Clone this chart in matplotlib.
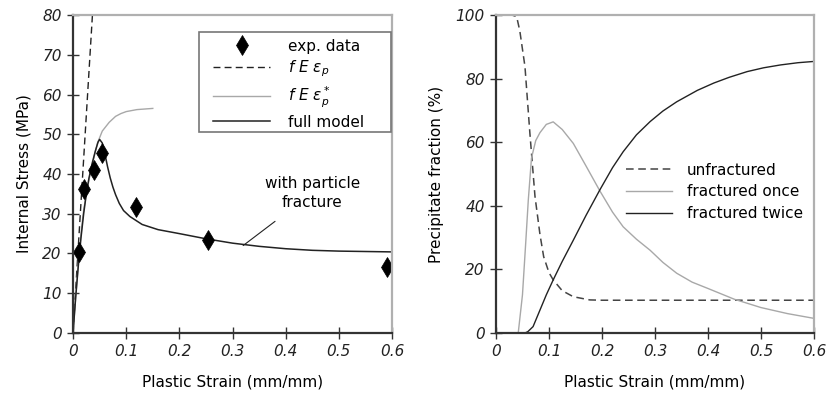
import matplotlib.pyplot as plt
from matplotlib.patches import Rectangle

# --- left panel: internal stress vs plastic strain ---
exp_strain = [0.011, 0.021, 0.040, 0.055, 0.118, 0.253, 0.590]
exp_stress = [20.5, 36.3, 41.0, 45.2, 31.7, 23.5, 16.5]

lin_strain = [0.0, 0.0365]
lin_stress = [0.0, 80.0]

sat_strain = [0.0, 0.005, 0.01, 0.015, 0.02, 0.03, 0.04, 0.046, 0.055, 0.068,
              0.08, 0.09, 0.10, 0.12, 0.15]
sat_stress = [0.0, 9.0, 17.5, 25.0, 31.0, 38.5, 44.5, 47.8, 50.8, 53.0,
              54.5, 55.2, 55.7, 56.2, 56.5]

full_strain = [0.0, 0.005, 0.01, 0.015, 0.02, 0.025, 0.03, 0.036, 0.042, 0.047,
               0.05, 0.055, 0.06, 0.065, 0.07, 0.075, 0.08, 0.087, 0.095, 0.107,
               0.13, 0.16, 0.2, 0.25, 0.3, 0.35, 0.4, 0.45, 0.5, 0.55, 0.6]
full_stress = [0.0, 9.0, 17.0, 24.0, 30.0, 35.0, 39.0, 42.7, 45.8, 48.0,
               48.7, 47.8, 45.0, 41.8, 39.0, 36.7, 34.8, 32.6, 30.8, 29.3,
               27.3, 26.0, 25.0, 23.7, 22.6, 21.8, 21.2, 20.8, 20.6, 20.5, 20.4]

# --- right panel: precipitate fractions ---
unf_strain = [0.0, 0.03, 0.039, 0.045, 0.0547, 0.064, 0.0736, 0.083, 0.09, 0.1,
              0.108, 0.125, 0.146, 0.177, 0.2, 0.3, 0.4, 0.5, 0.6]
unf_frac = [100.0, 100.0, 99.5, 95.0, 83.8, 62.8, 43.0, 31.0, 24.0, 19.0,
            16.7, 13.3, 11.4, 10.4, 10.3, 10.3, 10.3, 10.3, 10.3]

once_strain = [0.0, 0.042, 0.05, 0.056, 0.061, 0.067, 0.075, 0.083, 0.095, 0.108,
               0.125, 0.146, 0.17, 0.196, 0.22, 0.24, 0.265, 0.291, 0.315, 0.341,
               0.37, 0.4, 0.45, 0.5, 0.55, 0.6]
once_frac = [0.0, 0.0, 12.0, 28.0, 41.8, 55.0, 60.5, 63.0, 65.6, 66.4,
             64.0, 59.6, 52.5, 44.7, 38.0, 33.4, 29.5, 26.0, 22.2, 18.8,
             16.0, 14.0, 10.6, 8.0, 6.1, 4.6]

twice_strain = [0.0, 0.0547, 0.06, 0.07, 0.083, 0.095, 0.108, 0.125, 0.146, 0.17,
                0.196, 0.22, 0.24, 0.265, 0.291, 0.315, 0.341, 0.38, 0.411, 0.44,
                0.474, 0.505, 0.537, 0.57, 0.6]
twice_frac = [0.0, 0.0, 0.4, 2.0, 7.2, 12.0, 16.7, 22.5, 29.2, 37.0,
              45.0, 52.0, 57.0, 62.3, 66.5, 69.8, 72.7, 76.3, 78.6, 80.4,
              82.2, 83.4, 84.3, 85.0, 85.4]

DARK = '#222222'
GREY = '#a8a8a8'
FS = 11

plt.rcParams['font.family'] = ['DejaVu Sans']
plt.rcParams['mathtext.fontset'] = 'dejavusans'

fig = plt.figure(figsize=(8.28, 3.95), dpi=100)
ax1 = fig.add_axes([0.0882, 0.157, 0.3853, 0.805])
ax2 = fig.add_axes([0.599, 0.157, 0.384, 0.805])

xt = [0, 0.1, 0.2, 0.3, 0.4, 0.5, 0.6]
xt_labels = ['0', '0.1', '0.2', '0.3', '0.4', '0.5', '0.6']


def style_axes(ax, yt):
    for s in ['left', 'bottom']:
        ax.spines[s].set_color('#333333')
        ax.spines[s].set_linewidth(1.6)
    for s in ['top', 'right']:
        ax.spines[s].set_color('#b0b0b0')
        ax.spines[s].set_linewidth(1.6)
    ax.set_xticks(xt)
    ax.set_xticklabels(xt_labels, fontstyle='italic', fontsize=FS)
    ax.set_yticks(yt)
    ax.set_yticklabels([str(v) for v in yt], fontstyle='italic', fontsize=FS)
    ax.tick_params(direction='inout', length=8, width=1.0, color='#333333',
                   labelcolor='#222222', pad=4)
    ax.set_xlabel('Plastic Strain (mm/mm)', fontsize=FS, labelpad=11)


ax1.plot(lin_strain, lin_stress, '--', color=DARK, lw=1.0, dashes=(5, 3),
         label=r'$f\ E\ \epsilon_p$')
ax1.plot(sat_strain, sat_stress, '-', color=GREY, lw=1.0,
         label=r'$f\ E\ \epsilon_p^*$')
ax1.plot(full_strain, full_stress, '-', color=DARK, lw=1.1, label='full model')
ax1.plot(exp_strain, exp_stress, linestyle='none', marker='d', color='black',
         markersize=10, markeredgewidth=0.5, label='exp. data')
ax1.set_xlim(0, 0.6)
ax1.set_ylim(0, 80)
ax1.set_ylabel('Internal Stress (MPa)', fontsize=FS, labelpad=8)
style_axes(ax1, list(range(0, 81, 10)))

# legend box drawn separately so it can be wider than the entries (as in the original)
ax1.add_patch(Rectangle((0.396, 0.632), 0.6, 0.315, transform=ax1.transAxes,
                        facecolor='white', edgecolor='#777777', lw=1.2, zorder=4))
h, l = ax1.get_legend_handles_labels()
order = [3, 0, 1, 2]
leg1 = ax1.legend([h[i] for i in order], [l[i] for i in order],
                  loc='upper left', bbox_to_anchor=(0.43, 0.935),
                  fontsize=FS, frameon=False, handlelength=3.7,
                  handletextpad=1.2, borderpad=0.2, labelspacing=0.33,
                  borderaxespad=0)
leg1.set_zorder(5)

ax1.annotate('with particle\nfracture', xy=(0.32, 22.0), xytext=(0.45, 35.2),
             ha='center', va='center', fontsize=FS, linespacing=1.35,
             arrowprops=dict(arrowstyle='-', color=DARK, lw=0.8,
                             shrinkA=10, shrinkB=0))

ax2.plot(unf_strain, unf_frac, '--', color='#444444', lw=1.1, dashes=(5, 3),
         label='unfractured')
ax2.plot(once_strain, once_frac, '-', color=GREY, lw=1.0, label='fractured once')
ax2.plot(twice_strain, twice_frac, '-', color=DARK, lw=1.0, label='fractured twice')
ax2.set_xlim(0, 0.6)
ax2.set_ylim(0, 100)
ax2.set_ylabel('Precipitate fraction (%)', fontsize=FS, labelpad=8)
style_axes(ax2, list(range(0, 101, 20)))

ax2.legend(loc='upper left', bbox_to_anchor=(0.39, 0.555), fontsize=FS,
           frameon=False, handlelength=3.0, handletextpad=1.0,
           labelspacing=0.45, borderaxespad=0)

plt.savefig('out.png', dpi=100)
